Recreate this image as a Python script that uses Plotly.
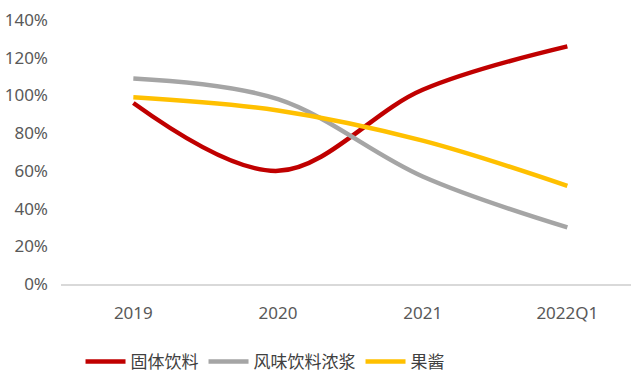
import plotly.graph_objects as go

categories = ["2019", "2020", "2021", "2022Q1"]
solid_drinks = [0.96, 0.60, 1.03, 1.26]      # 固体饮料
flavor_syrup = [1.09, 0.98, 0.57, 0.30]      # 风味饮料浓浆
jam = [0.99, 0.92, 0.76, 0.52]               # 果酱

series = [
    ("固体饮料", solid_drinks, "#C00000"),
    ("风味饮料浓浆", flavor_syrup, "#A5A5A5"),
    ("果酱", jam, "#FFC000"),
]

fig = go.Figure()
for name, vals, color in series:
    fig.add_trace(go.Scatter(
        x=categories, y=vals, name=name, mode="lines",
        line=dict(color=color, width=4.5, shape="spline", smoothing=1.0),
    ))

tick_font = dict(family="Liberation Sans Narrow, Noto Sans, sans-serif", size=17, color="#595959")
fig.update_layout(
    width=631, height=374,
    margin=dict(l=61, r=0, t=20, b=90, autoexpand=False),
    plot_bgcolor="white", paper_bgcolor="white",
    font=dict(family="Noto Sans CJK SC, Noto Sans, sans-serif", size=15, color="#595959"),
    showlegend=True,
    legend=dict(
        orientation="h", x=0.42, xanchor="center", xref="container",
        y=0.032, yanchor="middle", yref="container",
        font=dict(size=17, color="#404040"), itemwidth=40,
        traceorder="normal",
    ),
    xaxis=dict(
        type="category", range=[-0.5, 3.44],
        showgrid=False, showline=True, linecolor="#D9D9D9", linewidth=1.5,
        ticks="", ticklabelstandoff=13, tickfont=tick_font,
        zeroline=False,
    ),
    yaxis=dict(
        range=[0, 1.4], dtick=0.2, tickformat=".0%",
        showgrid=False, zeroline=False, showline=False,
        ticks="", ticklabelstandoff=12, tickfont=tick_font,
    ),
)

fig.write_html("out.html")
